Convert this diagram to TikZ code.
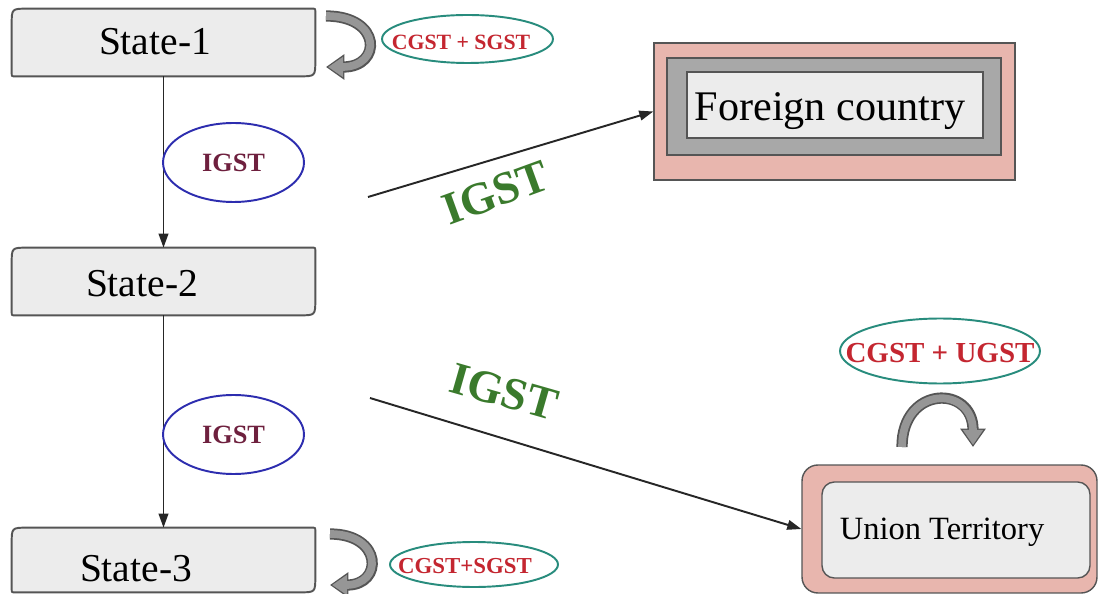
\documentclass[tikz,border=0pt]{standalone}
\usepackage{fontspec}
\setmainfont{Liberation Serif}
\usetikzlibrary{arrows.meta, positioning, shapes.geometric}
\definecolor{boxgray}{RGB}{236,236,236}
\definecolor{edgegray}{RGB}{85,85,85}
\definecolor{midgray}{RGB}{168,168,168}
\definecolor{pinkfill}{RGB}{232,182,174}
\definecolor{taxred}{RGB}{196,38,48}
\definecolor{tealedge}{RGB}{40,140,125}
\definecolor{igstplum}{RGB}{110,32,62}
\definecolor{ovalblue}{RGB}{45,45,175}
\definecolor{igstgreen}{RGB}{58,122,44}
\definecolor{bendgray}{RGB}{150,150,150}
\newcommand{\bentarrow}[1]{\draw[bendout] #1; \draw[bendin] #1;}

\begin{document}
\begin{tikzpicture}[x=0.02cm, y=-0.02cm,
  statebox/.style={minimum width=6.06cm, minimum height=1.34cm, inner sep=0pt},
  statetext/.style={font=\fontsize{22.5}{26}\selectfont, inner sep=0pt},
  stateedge/.style={draw=edgegray, line width=1.1pt, fill=boxgray},
  taxoval/.style={ellipse, draw=tealedge, line width=1.1pt, inner sep=0pt},
  taxtext/.style={text=taxred, inner sep=0pt},
  igstoval/.style={ellipse, draw=ovalblue, line width=1.1pt, minimum width=2.82cm, minimum height=1.58cm, inner sep=0pt, text=igstplum, font=\bfseries\fontsize{15}{18}\selectfont},
  igstlabel/.style={text=igstgreen, font=\bfseries\fontsize{26}{30}\selectfont, inner sep=0pt},
  flatbox/.style={draw=edgegray, line width=0.8pt, inner sep=0pt},
  arrow/.style={-{Triangle[length=8pt, width=5.5pt]}, line width=1.1pt, black!85},
  bendout/.style={line width=6.4pt, draw=edgegray, -{Triangle[length=10.5pt, width=14pt]}},
  bendin/.style={line width=4.4pt, draw=bendgray, shorten >=1.2pt, -{Triangle[length=8.5pt, width=11pt]}},
]
\fill[white] (0,0) rectangle (1098,594);
\useasboundingbox (0,0) rectangle (1098,594);

% States on the left
\node[statebox] (s1) at (163.5,42.5) {};
\node[statebox] (s2) at (163.5,281.5) {};
\node[statebox, minimum height=1.28cm] (s3) at (163.5,560) {};
\foreach \n in {s1,s2,s3}
  \draw[stateedge] ([yshift=2pt]\n.south west) -- ([yshift=-9pt]\n.north west) .. controls (\n.north west) .. ([xshift=9pt]\n.north west)
    -- ([xshift=-2pt]\n.north east) .. controls (\n.north east) .. ([yshift=-2pt]\n.north east)
    -- ([yshift=9pt]\n.south east) .. controls (\n.south east) .. ([xshift=-9pt]\n.south east)
    -- ([xshift=2pt]\n.south west) .. controls (\n.south west) .. ([yshift=2pt]\n.south west) -- cycle;
\node[statetext] (t1) at (155,42) {State-1};
\node[statetext] (t2) at (142,284) {State-2};
\node[statetext] (t3) at (136,569) {State-3};

\draw[arrow] (s1.south) -- (s2.north);
\draw[arrow] (s2.south) -- (s3.north);

\node[igstoval] (o1) at (233.5,162.5) {IGST};
\node[igstoval] (o2) at (233.5,434.5) {IGST};

% Taxes inside a state
\node[taxoval, minimum width=3.42cm, minimum height=0.96cm] (tax1) at (467.5,39) {};
\node[taxtext, font=\bfseries\fontsize{12.4}{15}\selectfont] (tax1t) at (461,42) {CGST + SGST};
\node[taxoval, minimum width=3.36cm, minimum height=0.9cm] (tax3) at (474,564.5) {};
\node[taxtext, font=\bfseries\fontsize{13}{16}\selectfont] (tax3t) at (465,566) {CGST+SGST};

\coordinate (l1s) at (326,16);
\coordinate (l1e) at (326,67);
\coordinate (l3s) at (330,534);
\coordinate (l3e) at (330,585);
\bentarrow{(l1s) .. controls +(56,0) and +(56,0) .. (l1e)}
\bentarrow{(l3s) .. controls +(53,0) and +(53,0) .. (l3e)}

% Foreign country
\node[flatbox, fill=pinkfill, minimum width=7.22cm, minimum height=2.74cm] (fcout) at (834.5,111.5) {};
\node[flatbox, fill=midgray, minimum width=6.68cm, minimum height=1.94cm] (fcmid) at (834,106.5) {};
\node[flatbox, fill=boxgray, minimum width=5.92cm, minimum height=1.32cm] (fcin) at (835,105) {};
\node[inner sep=0pt, font=\fontsize{24}{28}\selectfont] (fctext) at (830,111) {Foreign country};

% Union territory
\node[flatbox, fill=pinkfill, rounded corners=9pt, minimum width=5.9cm, minimum height=2.56cm] (utout) at (949.5,529) {};
\node[flatbox, fill=boxgray, rounded corners=7pt, minimum width=5.36cm, minimum height=1.92cm] (utin) at (956,530) {};
\node[inner sep=0pt, font=\fontsize{18.5}{22}\selectfont] (uttext) at (942,532) {Union Territory};

\node[taxoval, minimum width=4.0cm, minimum height=1.3cm] (taxut) at (940,351) {};
\node[taxtext, font=\bfseries\fontsize{16.5}{20}\selectfont] (taxutt) at (940,353) {CGST + UGST};

\coordinate (lus) at (902,447);
\coordinate (lue) at (973,447);
\bentarrow{(lus) .. controls +(0,-62) and +(0,-62) .. (lue)}

% Outgoing supplies
\coordinate (from1) at (368,197);
\coordinate (from2) at (370,398);
\draw[arrow] (from1) -- (fcout.west);
\draw[arrow] (from2) -- (utout.west);
\node[igstlabel, rotate=20] (igfc) at (495.5,192.5) {IGST};
\node[igstlabel, rotate=-16] (igut) at (504,392) {IGST};

\end{tikzpicture}
\end{document}
